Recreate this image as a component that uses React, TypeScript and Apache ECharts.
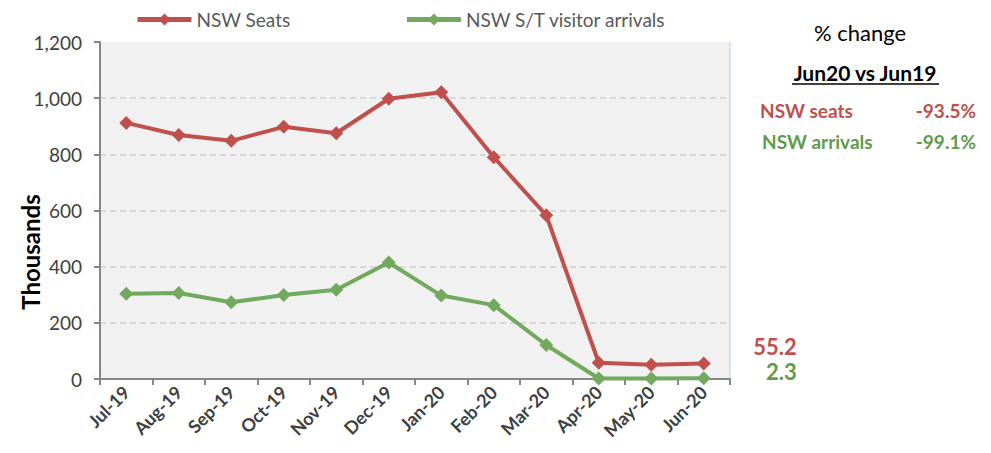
import React, { useEffect, useRef } from "react";
import * as echarts from "echarts";

const categories = ["Jul-19", "Aug-19", "Sep-19", "Oct-19", "Nov-19", "Dec-19", "Jan-20", "Feb-20", "Mar-20", "Apr-20", "May-20", "Jun-20"];
const seats = [912, 869, 848, 898, 875, 998, 1021, 790, 583, 58, 51, 55.2];
const arrivals = [304, 306, 273, 299, 318, 415, 297, 263, 121, 2, 2, 2.3];
const yTicks = { min: 0, max: 1200, interval: 200 };

const RED = "#c0504d";
const GREEN = "#72a95e";
const GREEN_TEXT = "#5f9b4c";
const FONT = "Lato, 'Open Sans', sans-serif";

export default function App() {
  const ref = useRef<HTMLDivElement>(null);
  useEffect(() => {
    if (!ref.current) return;
    const chart = echarts.init(ref.current, null, { renderer: "svg" });
    const lastLabel = (color: string, offsetY: number) => ({
      show: true,
      position: "right",
      align: "right",
      distance: 5,
      offset: [81, offsetY],
      color,
      fontFamily: FONT,
      fontWeight: "bold",
      fontSize: 22,
      lineHeight: 20,
      formatter: (p: any) => (p.dataIndex === categories.length - 1 ? String(p.value) : ""),
    });
    const gridColors = ["#d0d0d0", "#d0d0d0", "#d0d0d0", "#d0d0d0", "#d0d0d0", "#d0d0d0", "rgba(0,0,0,0)"];
    chart.setOption({
      animation: false,
      textStyle: { fontFamily: FONT },
      legend: {
        top: 5,
        left: 130,
        itemGap: 114,
        itemWidth: 54,
        itemHeight: 15,
        lineStyle: { width: 5 },
        textStyle: { fontSize: 19, color: "#595959", fontFamily: FONT },
        data: ["NSW Seats", "NSW S/T visitor arrivals"],
      },
      grid: {
        left: 100,
        top: 42,
        right: 261,
        bottom: 74,
        show: true,
        backgroundColor: "#f1f1f1",
        borderWidth: 0,
      },
      xAxis: {
        type: "category",
        data: categories,
        boundaryGap: true,
        axisLine: { lineStyle: { color: "#868686", width: 2 } },
        axisTick: { show: true, length: 6, alignWithLabel: false, lineStyle: { color: "#868686", width: 2 } },
        axisLabel: {
          rotate: 45,
          interval: 0,
          fontSize: 18,
          fontWeight: "bold",
          color: "#404040",
          fontFamily: FONT,
          margin: 10,
        },
      },
      yAxis: {
        type: "value",
        min: yTicks.min,
        max: yTicks.max,
        interval: yTicks.interval,
        axisLine: { show: true, lineStyle: { color: "#868686", width: 2 } },
        axisTick: { show: true, length: 6, lineStyle: { color: "#868686", width: 2 } },
        axisLabel: {
          fontSize: 19,
          color: "#404040",
          fontFamily: FONT,
          margin: 18,
          formatter: (v: number) => v.toLocaleString("en-US"),
        },
        splitLine: { show: true, lineStyle: { color: gridColors, type: [6, 4], width: 1.5 } },
      },
      series: [
        {
          name: "NSW Seats",
          type: "line",
          data: seats,
          symbol: "diamond",
          symbolSize: 14,
          lineStyle: { color: RED, width: 4 },
          itemStyle: { color: RED },
          label: lastLabel(RED, -17),
          z: 3,
        },
        {
          name: "NSW S/T visitor arrivals",
          type: "line",
          data: arrivals,
          symbol: "diamond",
          symbolSize: 14,
          lineStyle: { color: GREEN, width: 4 },
          itemStyle: { color: GREEN },
          label: lastLabel(GREEN_TEXT, -7),
          z: 4,
        },
      ],
      graphic: [
        { type: "line", shape: { x1: 730, y1: 42, x2: 730, y2: 379 }, style: { stroke: "#c5dcf0", lineWidth: 1.5 } },
        { type: "text", x: 30, y: 252, rotation: Math.PI / 2, style: { text: "Thousands", fontSize: 24, fontWeight: "bold", fill: "#000", fontFamily: FONT, align: "center", verticalAlign: "middle" } },
        { type: "text", x: 860, y: 32, style: { text: "% change", fontSize: 22, fill: "#000", fontFamily: FONT, align: "center", verticalAlign: "middle" } },
        { type: "text", x: 865, y: 72, style: { text: "Jun20 vs Jun19", fontSize: 21, fontWeight: "bold", fill: "#000", fontFamily: FONT, align: "center", verticalAlign: "middle" } },
        { type: "line", shape: { x1: 792, y1: 84, x2: 939, y2: 84 }, style: { stroke: "#000", lineWidth: 1.5 } },
        { type: "text", x: 760, y: 110, style: { text: "NSW seats", fontSize: 19, fontWeight: "bold", fill: RED, fontFamily: FONT, align: "left", verticalAlign: "middle" } },
        { type: "text", x: 976, y: 110, style: { text: "-93.5%", fontSize: 19, fontWeight: "bold", fill: RED, fontFamily: FONT, align: "right", verticalAlign: "middle" } },
        { type: "text", x: 762, y: 141, style: { text: "NSW arrivals", fontSize: 19, fontWeight: "bold", fill: GREEN_TEXT, fontFamily: FONT, align: "left", verticalAlign: "middle" } },
        { type: "text", x: 976, y: 141, style: { text: "-99.1%", fontSize: 19, fontWeight: "bold", fill: GREEN_TEXT, fontFamily: FONT, align: "right", verticalAlign: "middle" } },
      ],
    });
    return () => chart.dispose();
  }, []);
  return <div ref={ref} style={{ width: 991, height: 453, position: "absolute", left: 0, top: 0 }} />;
}
